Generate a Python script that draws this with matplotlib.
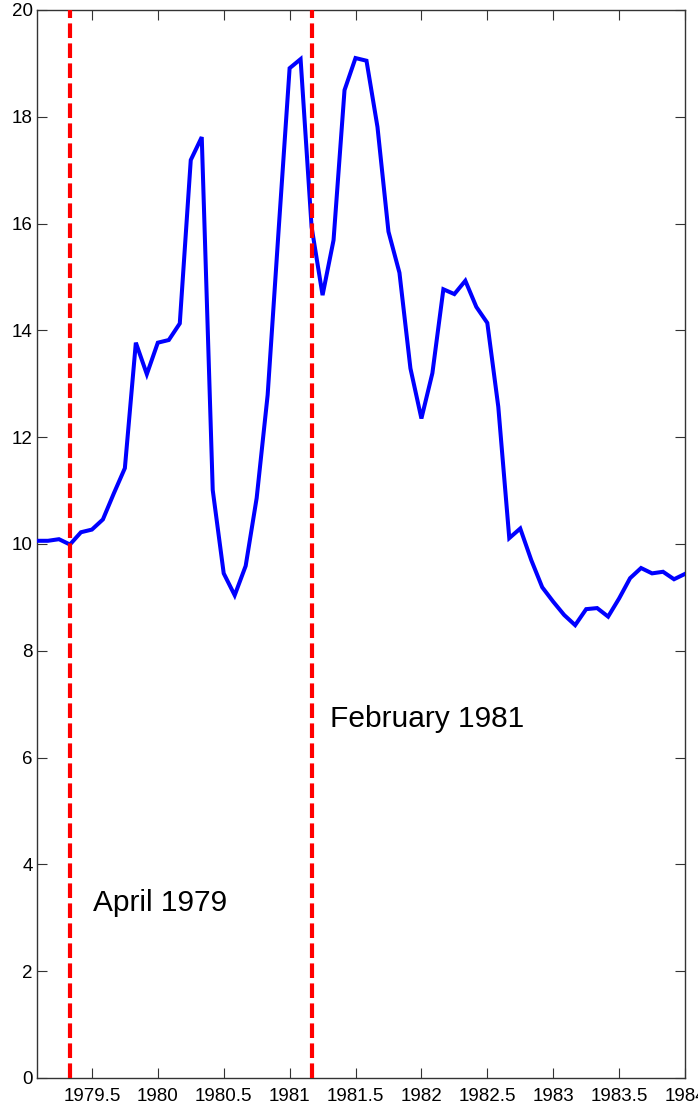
import numpy as np
import matplotlib
matplotlib.use("Agg")
import matplotlib.pyplot as plt

plt.rcParams['font.family'] = ['Liberation Sans', 'DejaVu Sans']

# Monthly values, Jan 1979 .. Dec 1983 (dated year + month/12)
start_year = 1979
values = [
    10.06, 10.06, 10.09, 9.99, 10.22, 10.27, 10.46, 10.95, 11.42, 13.77, 13.18, 13.77,   # 1979
    13.82, 14.13, 17.19, 17.62, 11.01, 9.45, 9.04, 9.59, 10.86, 12.79, 15.88, 18.91,    # 1980
    19.08, 15.94, 14.66, 15.69, 18.50, 19.10, 19.05, 17.81, 15.85, 15.08, 13.29, 12.35, # 1981
    13.20, 14.77, 14.68, 14.93, 14.44, 14.14, 12.57, 10.11, 10.29, 9.70, 9.19, 8.92,    # 1982
    8.67, 8.48, 8.78, 8.80, 8.64, 8.98, 9.36, 9.55, 9.45, 9.48, 9.34, 9.44,             # 1983
]
dates = [start_year + (i + 1) / 12 for i in range(len(values))]

events = [1979 + 4 / 12, 1981 + 2 / 12]
event_labels = ["April 1979", "February 1981"]
event_label_pos = [(1979.505, 3.13), (1981.31, 6.58)]

xticks = [1979.5, 1980, 1980.5, 1981, 1981.5, 1982, 1982.5, 1983, 1983.5, 1984]
yticks = [0, 2, 4, 6, 8, 10, 12, 14, 16, 18, 20]

fig = plt.figure(figsize=(6.98, 11.08), dpi=100)
ax = fig.add_axes([37 / 698, 1 - 1078 / 1108, (685 - 37) / 698, (1078 - 10) / 1108])

ax.plot(dates, values, color='#0000ff', lw=2.9, solid_joinstyle='miter', zorder=3)
for ev in events:
    ax.axvline(ev, color='#ff0000', lw=3.0, linestyle=(0, (3.5, 1.3)), zorder=4)
for lab, (tx, ty) in zip(event_labels, event_label_pos):
    ax.text(tx, ty, lab, fontsize=21.5, color='black', ha='left', va='baseline')

ax.set_xlim(1979 + 1 / 12, 1984)
ax.set_ylim(0, 20)
ax.set_xticks(xticks)
ax.set_xticklabels(['%g' % t for t in xticks])
ax.set_yticks(yticks)
ax.set_yticklabels(['%g' % t for t in yticks])
ax.tick_params(direction='in', length=7, width=0.8, top=True, right=True,
               labelsize=13.5, colors='#333333', labelcolor='black')
ax.tick_params(axis='x', pad=7)
ax.tick_params(axis='y', pad=3)
for s in ax.spines.values():
    s.set_color('#333333')
    s.set_linewidth(1.0)

fig.savefig('out.png', dpi=100)
